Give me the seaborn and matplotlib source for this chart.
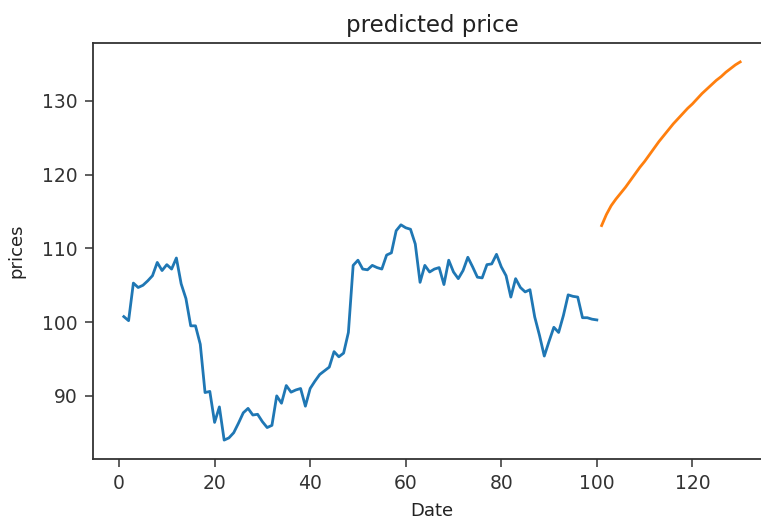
import matplotlib
matplotlib.use("Agg")
import matplotlib.pyplot as plt
import seaborn as sns
import pandas as pd

# Historical prices (x = 1..100)
hist_dates = list(range(1, 101))
hist_prices = [
    100.75, 100.2, 105.3, 104.7, 105.0, 105.6, 106.3, 108.1, 107.0, 107.8,
    107.2, 108.7, 105.2, 103.2, 99.5, 99.5, 97.0, 90.45, 90.6, 86.4,
    88.5, 84.0, 84.3, 85.0, 86.3, 87.7, 88.3, 87.4, 87.5, 86.5,
    85.7, 86.0, 90.0, 89.0, 91.4, 90.5, 90.8, 91.0, 88.6, 91.0,
    92.0, 92.9, 93.4, 93.9, 96.0, 95.3, 95.8, 98.6, 107.7, 108.4,
    107.2, 107.1, 107.7, 107.4, 107.2, 109.1, 109.4, 112.4, 113.2, 112.8,
    112.6, 110.6, 105.4, 107.7, 106.8, 107.2, 107.4, 105.1, 108.4, 106.8,
    105.9, 107.0, 108.8, 107.5, 106.1, 106.0, 107.8, 107.9, 109.2, 107.5,
    106.3, 103.4, 105.9, 104.7, 104.1, 104.4, 100.7, 98.2, 95.4, 97.4,
    99.3, 98.6, 100.9, 103.7, 103.5, 103.4, 100.6, 100.6, 100.4, 100.3,
]

# Predicted prices (x = 101..130)
pred_dates = list(range(101, 131))
pred_prices = [
    113.1, 114.6, 115.8, 116.7, 117.5, 118.3, 119.2, 120.1, 121.0, 121.8,
    122.7, 123.6, 124.5, 125.3, 126.1, 126.9, 127.6, 128.3, 129.0, 129.6,
    130.3, 131.0, 131.6, 132.2, 132.8, 133.3, 133.9, 134.4, 134.9, 135.3,
]

title = "predicted price"
xlabel = "Date"
ylabel = "prices"

hist_df = pd.DataFrame({"Date": hist_dates, "prices": hist_prices})
pred_df = pd.DataFrame({"Date": pred_dates, "prices": pred_prices})

W, H = 761, 519
fig = plt.figure(figsize=(W / 100, H / 100), dpi=100)
ax = fig.add_axes([93 / W, (H - 459) / H, 678 / W, 416 / H])

sns.lineplot(data=hist_df, x="Date", y="prices", ax=ax, color="#1f77b4", linewidth=2.0)
sns.lineplot(data=pred_df, x="Date", y="prices", ax=ax, color="#ff7f0e", linewidth=2.0)

ax.set_title(title, fontsize=16.5, color="#222222", pad=8)
ax.set_xlabel(xlabel, fontsize=13, color="#222222", labelpad=6)
ax.set_ylabel(ylabel, fontsize=13, color="#222222", labelpad=12)
ax.set_xticks([0, 20, 40, 60, 80, 100, 120])
ax.set_yticks([90, 100, 110, 120, 130])
ax.tick_params(labelsize=13.5, length=6, width=1.1, pad=5, colors="#333333", labelcolor="#333333")
ax.spines["right"].set_visible(False)
for s in ax.spines.values():
    s.set_linewidth(1.3)
    s.set_color("#333333")

fig.savefig("out.png", dpi=100)
